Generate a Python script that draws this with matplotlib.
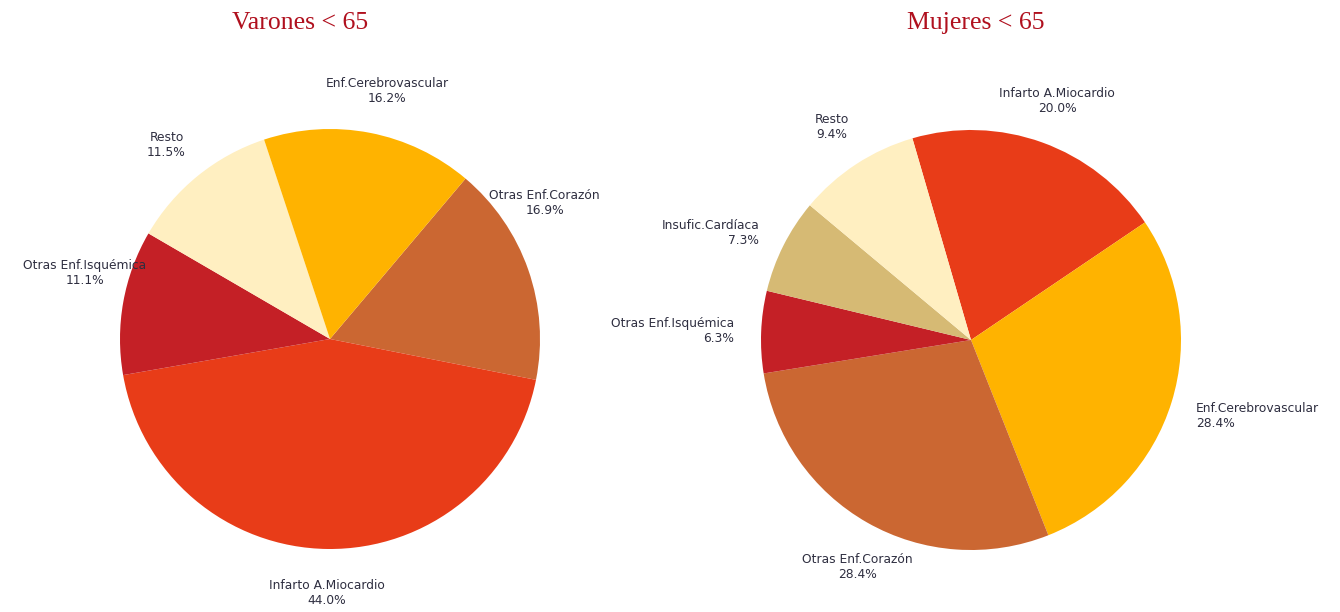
import numpy as np
import matplotlib
matplotlib.use("Agg")
import matplotlib.pyplot as plt

# ---- data ----
titles = ["Varones < 65", "Mujeres < 65"]

men_labels = ["Otras Enf.Corazón", "Infarto A.Miocardio", "Otras Enf.Isquémica", "Resto", "Enf.Cerebrovascular"]
men_values = [16.9, 44.0, 11.1, 11.5, 16.2]

women_labels = ["Infarto A.Miocardio", "Enf.Cerebrovascular", "Otras Enf.Corazón", "Otras Enf.Isquémica", "Insufic.Cardíaca", "Resto"]
women_values = [20.0, 28.4, 28.4, 6.3, 7.3, 9.4]

# ---- style ----
colors = {
    "Infarto A.Miocardio": "#E83C18",
    "Enf.Cerebrovascular": "#FFB300",
    "Otras Enf.Corazón": "#CB6732",
    "Otras Enf.Isquémica": "#C42026",
    "Resto": "#FFEFC1",
    "Insufic.Cardíaca": "#D6BA74",
}
men_start = 49.8
women_start = 106.2
men_align = ["center"] * 5
women_align = ["center", "left", "center", "right", "right", "center"]
# small angular nudges of label placement (degrees)
men_nudge = [13, 0, -5, 1, -2]
women_nudge = [0, -1.5, 3, 0, 0, 0]

W, H = 1340, 612
fig = plt.figure(figsize=(W / 100, H / 100), dpi=100)
fig.patch.set_facecolor("white")

text_color = "#2E2E40"
title_color = "#B0101E"


def draw(cx, cy, r, labels, values, start, aligns, nudges, title, tx):
    ax = fig.add_axes([(cx - r) / W, (H - cy - r) / H, 2 * r / W, 2 * r / H])
    wedges, _ = ax.pie(values, colors=[colors[l] for l in labels], startangle=start,
                       counterclock=False, radius=1.0,
                       wedgeprops=dict(linewidth=0))
    ax.set_xlim(-1, 1)
    ax.set_ylim(-1, 1)
    ax.set_aspect("equal")
    ax.axis("off")
    for w, lab, v, al, nd in zip(wedges, labels, values, aligns, nudges):
        ang = np.deg2rad((w.theta1 + w.theta2) / 2 + nd)
        d = 1.21 if al == "center" else 1.13
        x, y = d * np.cos(ang), d * np.sin(ang)
        ax.text(x, y, f"{lab}\n{v:.1f}%", ha=al, va="center", multialignment=al,
                fontsize=8.8, color=text_color, family="DejaVu Sans",
                linespacing=1.2, clip_on=False)
    fig.text(tx / W, 1 - 23 / H, title, ha="center", va="center",
             fontsize=18.5, color=title_color, family="Liberation Serif")


draw(330, 339, 210, men_labels, men_values, men_start, men_align, men_nudge, titles[0], 300)
draw(971, 340, 210, women_labels, women_values, women_start, women_align, women_nudge, titles[1], 976)

fig.savefig("out.png", dpi=100, facecolor="white")
